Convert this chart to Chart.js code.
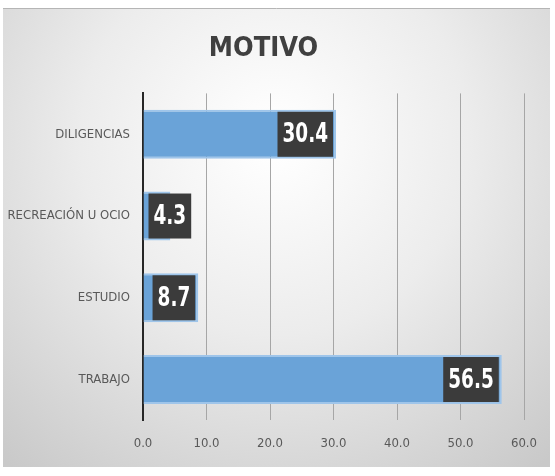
<!DOCTYPE html>
<html>
<head>
<meta charset="utf-8">
<script src="https://cdn.jsdelivr.net/npm/chart.js@4/dist/chart.umd.min.js"></script>
<style>
html,body{margin:0;padding:0;background:#fff;}
#wrap{width:555px;height:476px;position:relative;}
</style>
</head>
<body>
<div id="wrap"><canvas id="c" width="555" height="476"></canvas></div>
<script>
const categories = ["DILIGENCIAS", "RECREACIÓN U OCIO", "ESTUDIO", "TRABAJO"];
const values = [30.4, 4.3, 8.7, 56.5];
const tickLabels = ["0.0", "10.0", "20.0", "30.0", "40.0", "50.0", "60.0"];
const chartTitle = "MOTIVO";

const FONT = "'DejaVu Sans Condensed', 'Liberation Sans Narrow', sans-serif";

const bgPlugin = {
  id: 'bg',
  beforeDraw(chart) {
    const ctx = chart.ctx;
    const x0 = 3, y0 = 8, x1 = 550, y1 = 467;
    ctx.save();
    const g = ctx.createRadialGradient(275, 140, 10, 275, 140, 420);
    g.addColorStop(0, '#ffffff');
    g.addColorStop(0.45, '#ececec');
    g.addColorStop(1, '#c9c9c9');
    ctx.fillStyle = g;
    ctx.fillRect(x0, y0, x1 - x0, y1 - y0);
    ctx.strokeStyle = '#b5b5b5';
    ctx.lineWidth = 1;
    ctx.beginPath();
    ctx.moveTo(x0, y0 + 0.5); ctx.lineTo(x1, y0 + 0.5);
    ctx.stroke();
    ctx.restore();
  }
};

const labelPlugin = {
  id: 'boxLabels',
  afterDatasetsDraw(chart) {
    const ctx = chart.ctx;
    const meta = chart.getDatasetMeta(0);
    const sx = 0.76;
    ctx.save();
    ctx.font = "bold 27px " + FONT;
    ctx.textBaseline = 'middle';
    ctx.textAlign = 'center';
    meta.data.forEach((bar, i) => {
      const txt = chart.data.datasets[0].data[i].toFixed(1);
      const tw = ctx.measureText(txt).width * sx;
      const bw = tw + 10, bh = 45;
      const base = bar.base;
      let right = bar.x - 3;
      let left = right - bw;
      if (left < base + 5) { left = base + 5; right = left + bw; }
      const top = bar.y - bh / 2;
      ctx.fillStyle = '#3b3b3b';
      ctx.fillRect(left, top, bw, bh);
      ctx.fillStyle = '#ffffff';
      ctx.save();
      ctx.translate(left + bw / 2, bar.y + 1);
      ctx.scale(sx, 1);
      ctx.fillText(txt, 0, 0);
      ctx.restore();
    });
    ctx.restore();
  }
};

new Chart(document.getElementById('c'), {
  type: 'bar',
  data: {
    labels: categories,
    datasets: [{
      data: values,
      backgroundColor: '#6aa3d8',
      borderColor: '#9fc5ea',
      borderWidth: 2,
      categoryPercentage: 1.0,
      barPercentage: 0.6
    }]
  },
  plugins: [bgPlugin, labelPlugin],
  options: {
    indexAxis: 'y',
    responsive: false,
    animation: false,
    devicePixelRatio: 1,
    layout: { padding: { left: 3, right: 31, top: 28, bottom: 10 } },
    plugins: {
      legend: { display: false },
      tooltip: { enabled: false },
      title: {
        display: true,
        text: chartTitle,
        color: '#404040',
        font: { family: FONT, size: 27, weight: 'bold' },
        padding: { top: 5, bottom: 28 }
      }
    },
    scales: {
      x: {
        min: 0, max: 60,
        ticks: {
          stepSize: 10,
          color: '#595959',
          font: { family: FONT, size: 13 },
          padding: 15,
          maxRotation: 0,
          callback: (v, i) => tickLabels[i]
        },
        grid: { color: '#a6a6a6', lineWidth: 1, drawTicks: false },
        border: { display: false }
      },
      y: {
        ticks: {
          color: '#595959',
          font: { family: FONT, size: 13 },
          padding: 13
        },
        grid: { display: false, drawTicks: false },
        border: { display: true, color: '#262626', width: 2 },
        afterFit(scale) { scale.width = 140; }
      }
    }
  }
});
</script>
</body>
</html>
